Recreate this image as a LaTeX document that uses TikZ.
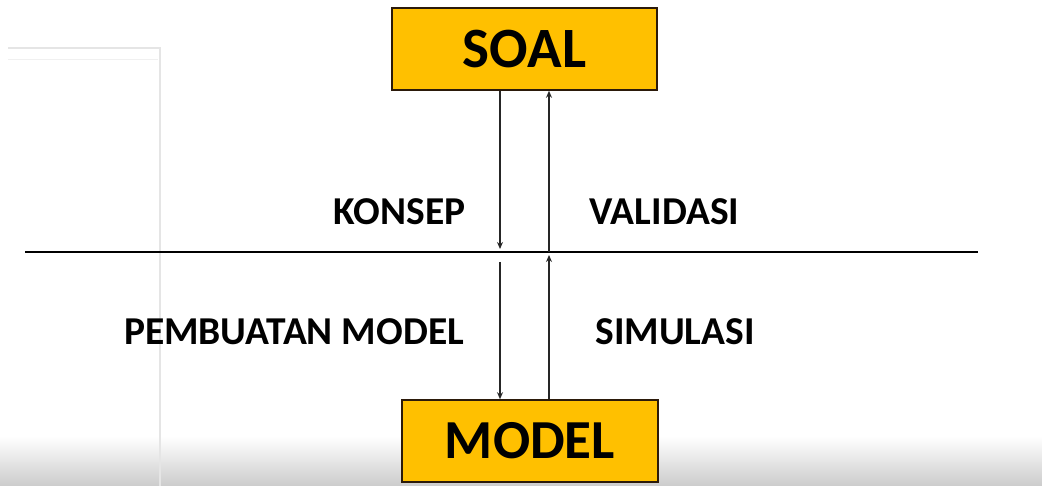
\documentclass[tikz,border=0pt]{standalone}
\usepackage{fontspec}
\setmainfont{Carlito}
\usetikzlibrary{arrows.meta}
\definecolor{boxgold}{HTML}{FFC000}
\definecolor{boxedge}{HTML}{2B1A0A}
\tikzset{
  bigbox/.style={draw=boxedge, line width=1.6pt, fill=boxgold, minimum height=82pt, inner sep=0pt},
  lbl/.style={anchor=base, font=\bfseries\fontsize{39.5}{44}\selectfont, inner sep=0pt},
  conn/.style={draw=black!85, line width=1.3pt, -{Stealth[length=7pt,width=6pt]}},
  faint/.style={draw=black!10, line width=1.5pt}
}
\begin{document}
\begin{tikzpicture}[x=1pt,y=-1pt]
\useasboundingbox (0,0) rectangle (1042,486);
% bottom gray vignette
\shade[top color=white, bottom color=black!20] (0,436) rectangle (1042,486);
% faint window edges
\coordinate (w1) at (8,48);
\coordinate (w2) at (160,48);
\coordinate (w3) at (160,486);
\draw[faint] (w1) -- (w2) -- (w3);
\draw[draw=black!6, line width=1pt] (8,60) -- (158,60);
% boxes
\node[bigbox, minimum width=265pt, font=\bfseries\fontsize{57}{62}\selectfont] (soal) at (524.5,49) {SOAL};
\node[bigbox, minimum width=256pt, font=\bfseries\fontsize{55}{60}\selectfont] (model) at (530,441) {MODEL};
% horizontal line
\coordinate (hl) at (25,252);
\coordinate (hr) at (978,252);
\draw[line width=1.5pt] (hl) -- (hr);
% arrow coordinates
\coordinate (dA) at (500,249);
\coordinate (dB) at (500,262);
\coordinate (uA) at (549,255);
\coordinate (uB) at (549,252);
\draw[conn] (soal.south -| dA) -- (dA);
\draw[conn] (dB) -- (model.north -| dB);
\draw[conn] (model.north -| uA) -- (uA);
\draw[conn] (uB) -- (soal.south -| uB);
% labels
\node[lbl] (konsep) at (399.5,225) {KONSEP};
\node[lbl] (validasi) at (664.5,225) {VALIDASI};
\node[lbl] (pemb) at (294,345) {PEMBUATAN MODEL};
\node[lbl] (simul) at (675,345) {SIMULASI};
\end{tikzpicture}
\end{document}
